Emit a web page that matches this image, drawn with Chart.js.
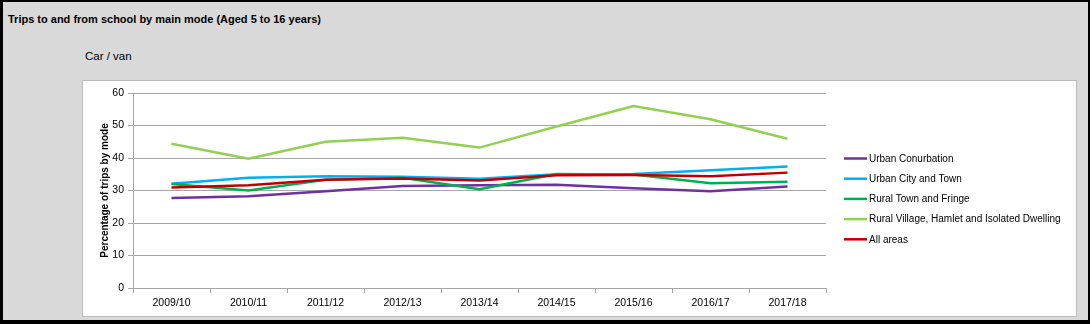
<!DOCTYPE html>
<html>
<head>
<meta charset="utf-8">
<script src="https://cdn.jsdelivr.net/npm/chart.js@4/dist/chart.umd.min.js"></script>
<style>
  body { margin: 0; width: 1090px; height: 324px; overflow: hidden; font-family: "Liberation Sans", Arial, sans-serif; }
  .frame { position: absolute; left: 0; top: 0; width: 1090px; height: 324px; box-sizing: border-box;
           background: #d9d9d9; border-style: solid; border-color: #000; border-width: 2px 2px 4px 3px; }
  .title { position: absolute; left: 8px; top: 13px; font-size: 11px; font-weight: bold; color: #000; }
  .sub { position: absolute; left: 85px; top: 50px; font-size: 11.5px; color: #000; }
  .box { position: absolute; left: 82px; top: 80px; width: 993px; height: 235px; background: #fff; border: 1px solid #bcbcbc; }
  canvas { display: block; }
</style>
</head>
<body>
<div class="frame"></div>
<div class="title">Trips to and from school by main mode (Aged 5 to 16 years)</div>
<div class="sub">Car / van</div>
<div class="box"><canvas id="chart" width="993" height="235"></canvas></div>

<script>
// school years on the x axis
const years = ["2009/10", "2010/11", "2011/12", "2012/13", "2013/14", "2014/15", "2015/16", "2016/17", "2017/18"];

// percentage of trips by car / van
const urbanConurbation = [27.7, 28.2, 29.8, 31.4, 31.6, 31.8, 30.7, 29.8, 31.2];
const urbanCityTown = [32.1, 33.9, 34.4, 34.2, 33.6, 35.0, 35.1, 36.2, 37.4];
const ruralTownFringe = [32.0, 30.0, 33.3, 33.9, 30.4, 35.1, 34.9, 32.2, 32.7];
const ruralVillage = [44.4, 39.8, 45.0, 46.2, 43.2, 49.7, 56.0, 51.9, 45.9];
const allAreas = [30.9, 31.6, 33.3, 33.7, 33.1, 34.7, 34.8, 34.4, 35.5];

const seriesNames = ["Urban Conurbation", "Urban City and Town", "Rural Town and Fringe",
    "Rural Village, Hamlet and Isolated Dwelling", "All areas"];
const seriesColors = ["#7030a0", "#00b0f0", "#00b050", "#92d050", "#c00000"];
const yTicks = [0, 10, 20, 30, 40, 50, 60];

const seriesValues = [urbanConurbation, urbanCityTown, ruralTownFringe, ruralVillage, allAreas];

const gridColor = "#a6a6a6";
const tickFont = { family: "'Liberation Sans', Arial, sans-serif", size: 10.5 };

// legend on the right, drawn by hand so rows sit where Excel puts them
const sideLegend = {
    id: "sideLegend",
    afterDraw(chart) {
        const ctx = chart.ctx;
        ctx.save();
        ctx.font = "10px 'Liberation Sans', Arial, sans-serif";
        ctx.textBaseline = "middle";
        chart.data.datasets.forEach((ds, i) => {
            const y = 77.5 + i * 20.2;
            ctx.strokeStyle = ds.borderColor;
            ctx.lineWidth = 2.5;
            ctx.beginPath();
            ctx.moveTo(761, y);
            ctx.lineTo(784, y);
            ctx.stroke();
            ctx.fillStyle = "#000";
            ctx.fillText(ds.label, 786, y + 0.5);
        });
        ctx.restore();
    }
};

new Chart(document.getElementById("chart"), {
    type: "line",
    data: {
        labels: years,
        datasets: seriesNames.map((name, i) => ({
            label: name,
            data: seriesValues[i],
            borderColor: seriesColors[i],
            backgroundColor: seriesColors[i],
            borderWidth: 2.5,
            pointRadius: 0,
            tension: 0,
            order: seriesNames.length - i
        }))
    },
    options: {
        responsive: false,
        animation: false,
        layout: { padding: { top: 12, right: 250, left: 0, bottom: 0 } },
        plugins: {
            legend: { display: false },
            tooltip: { enabled: false }
        },
        scales: {
            x: {
                offset: true,
                grid: { offset: true, drawOnChartArea: false, drawTicks: true, tickLength: 5, color: gridColor },
                border: { color: gridColor },
                ticks: { color: "#000", font: tickFont, padding: 4, maxRotation: 0 },
                afterFit: (scale) => { scale.height = 28; }
            },
            y: {
                min: 0,
                max: 60,
                afterBuildTicks: (scale) => { scale.ticks = yTicks.map(v => ({ value: v })); },
                grid: { color: gridColor, tickLength: 5 },
                border: { color: gridColor },
                ticks: { color: "#000", font: tickFont, padding: 4 },
                title: {
                    display: true,
                    text: "Percentage of trips by mode",
                    color: "#000",
                    font: { family: "'Liberation Sans', Arial, sans-serif", size: 10, weight: "bold" },
                    padding: { top: 16, bottom: 0 }
                },
                afterFit: (scale) => { scale.width = 50; }
            }
        }
    },
    plugins: [sideLegend]
});
</script>
</body>
</html>
